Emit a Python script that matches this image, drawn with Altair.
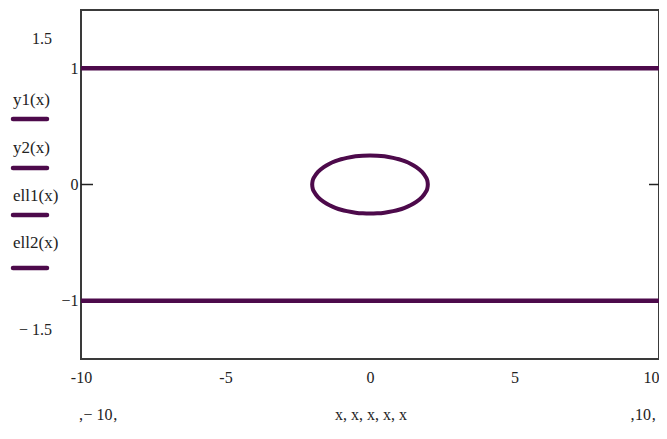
import altair as alt
import pandas as pd

# Data
line_x = [-10, 10]
y1_vals = [1, 1]
y2_vals = [-1, -1]

ell_x = [-2.0, -1.99, -1.95, -1.8, -1.6, -1.4, -1.2, -1.0, -0.8, -0.5, -0.25, 0.0,
         0.25, 0.5, 0.8, 1.0, 1.2, 1.4, 1.6, 1.8, 1.95, 1.99, 2.0]
ell1_vals = [0.0, 0.025, 0.056, 0.109, 0.15, 0.179, 0.2, 0.217, 0.229, 0.242, 0.248, 0.25,
             0.248, 0.242, 0.229, 0.217, 0.2, 0.179, 0.15, 0.109, 0.056, 0.025, 0.0]
ell2_vals = [-v for v in ell1_vals]

legend_names = ["y1(x)", "y2(x)", "ell1(x)", "ell2(x)"]
y_extra_labels = ["1.5", "\u2212 1.5"]
y_extra_vals = [1.25, -1.25]
x_ticks = [-10, -5, 0, 5, 10]
y_ticks = [-1, 0, 1]

COLOR = "#4d0a4b"
FONT = "Liberation Serif"
W, H = 578, 349

lines_df = pd.DataFrame({
    "x": line_x * 2,
    "y": y1_vals + y2_vals,
    "series": ["y1"] * 2 + ["y2"] * 2,
    "order": [0, 1, 0, 1],
})
ell_df = pd.DataFrame({
    "x": ell_x + ell_x[::-1],
    "y": ell1_vals + ell2_vals[::-1],
    "order": list(range(2 * len(ell_x))),
})

xscale = alt.Scale(domain=[-10, 10], nice=False, zero=False)
yscale = alt.Scale(domain=[-1.5, 1.5], nice=False, zero=False)

xaxis = alt.Axis(values=x_ticks, title=None, grid=False, ticks=False, domain=False,
                 labelFont=FONT, labelFontSize=16, labelColor="#222", labelPadding=10,
                 labelFlush=False,
                 labelAlign={"condition": {"test": "datum.value == 10", "value": "right"},
                             "value": "center"},
                 labelExpr="replace(datum.label, '\u2212', '-')")
yaxis = alt.Axis(values=y_ticks, title=None, grid=False, ticks=False, domain=False,
                 format="d",
                 labelFont=FONT, labelFontSize=16, labelColor="#222", labelPadding=3)

hlines = alt.Chart(lines_df).mark_line(color=COLOR, strokeWidth=4.5).encode(
    x=alt.X("x:Q", scale=xscale, axis=xaxis),
    y=alt.Y("y:Q", scale=yscale, axis=yaxis),
    detail="series:N",
    order="order:Q",
)

ellipse = alt.Chart(ell_df).mark_line(color=COLOR, strokeWidth=4, interpolate="cardinal-closed").encode(
    x=alt.X("x:Q", scale=xscale),
    y=alt.Y("y:Q", scale=yscale),
    order="order:Q",
)

extra_df = pd.DataFrame({"label": y_extra_labels, "y": y_extra_vals})
extra = alt.Chart(extra_df).mark_text(font=FONT, fontSize=16, align="right", color="#222").encode(
    x=alt.value(-29),
    y=alt.Y("y:Q", scale=yscale),
    text="label:N",
)

# Inward ticks at y = 0 on both sides
tick_df = pd.DataFrame({"y": [0]})
tick_l = alt.Chart(tick_df).mark_rule(color="#222", strokeWidth=1.5).encode(
    x=alt.value(0), x2=alt.value(12), y=alt.Y("y:Q", scale=yscale))
tick_r = alt.Chart(tick_df).mark_rule(color="#222", strokeWidth=1.5).encode(
    x=alt.value(W - 10), x2=alt.value(W), y=alt.Y("y:Q", scale=yscale))

# Legend (Mathcad style: name above a line sample)
leg_text_y = [90, 138, 186, 233]
leg_line_y = [109, 158, 205, 258]
leg_df = pd.DataFrame({"name": legend_names, "ty": leg_text_y, "ly": leg_line_y})
leg_text = alt.Chart(leg_df).mark_text(font=FONT, fontSize=17, align="left", color="#222").encode(
    x=alt.value(-68), y=alt.Y("ty:Q", scale=None), text="name:N")
leg_line = alt.Chart(leg_df).mark_rule(color=COLOR, strokeWidth=4.5, strokeCap="round").encode(
    x=alt.value(-68), x2=alt.value(-34), y=alt.Y("ly:Q", scale=None))

# Bottom placeholder row
bottom_df = pd.DataFrame({
    "label": ["\u201a\u2212 10\u201a", "x, x, x, x, x", "\u201a10\u201a"],
    "px": [17, 290, 562],
})
bottom = alt.Chart(bottom_df).mark_text(font=FONT, fontSize=16, align="center", color="#222").encode(
    x=alt.X("px:Q", scale=None), y=alt.value(405), text="label:N")

chart = alt.layer(hlines, ellipse, extra, tick_l, tick_r, leg_text, leg_line, bottom).properties(
    width=W, height=H,
    autosize=alt.AutoSizeParams(type="none"),
    padding={"left": 73, "top": 2, "right": 0, "bottom": 72},
    background="white",
).configure_view(stroke="#3a3a3a", strokeWidth=2)

chart.save("out.html", embed_options={"renderer": "svg", "actions": False})
